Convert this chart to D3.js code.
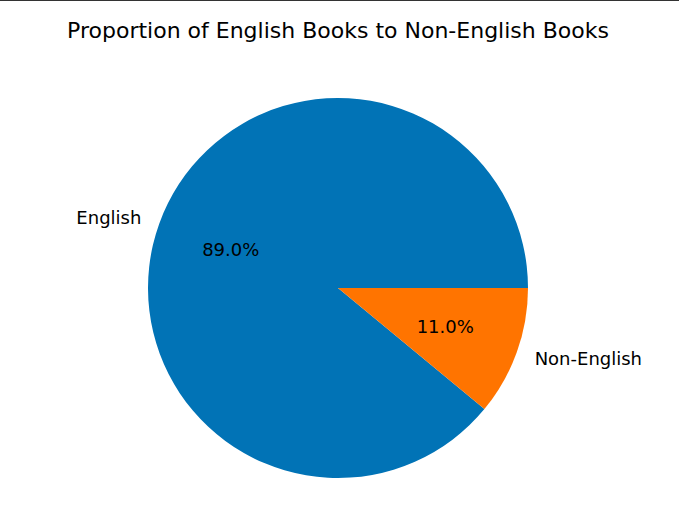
<!doctype html>
<html lang="en">
<head>
<meta charset="utf-8">
<script src="https://cdn.jsdelivr.net/npm/d3@7"></script>
<style>body{margin:0;background:#fff}</style>
</head>
<body>
<div id="vis"></div>
<script>
const labels = ['English', 'Non-English'];
const values = [89.0, 11.0];
const colors = ['#0173b6', '#ff7400'];

const w = 679, h = 519, cx = 338, cy = 288, r = 190;
const svg = d3.select('#vis').append('svg').attr('width', w).attr('height', h)
    .style('font-family', 'DejaVu Sans');

svg.append('line').attr('x1', 0).attr('x2', w).attr('y1', 0.5).attr('y2', 0.5)
    .attr('stroke', '#333').attr('stroke-width', 1);

svg.append('text').attr('x', cx).attr('y', 38).attr('text-anchor', 'middle')
    .attr('font-size', 22).text('Proportion of English Books to Non-English Books');

const pie = d3.pie().sort(null).startAngle(Math.PI / 2).endAngle(Math.PI / 2 - 2 * Math.PI);
const arcs = pie(values);
const arc = d3.arc().innerRadius(0).outerRadius(r);
const g = svg.append('g').attr('transform', `translate(${cx},${cy})`);

g.selectAll('path').data(arcs).enter().append('path')
    .attr('d', arc).attr('fill', (d, i) => colors[i]);

const pos = (d, k) => {
    const a = (d.startAngle + d.endAngle) / 2;
    return [k * r * Math.sin(a), -k * r * Math.cos(a)];
};

g.selectAll('.lbl').data(arcs).enter().append('text')
    .attr('class', 'lbl')
    .attr('x', d => pos(d, 1.1)[0]).attr('y', d => pos(d, 1.1)[1])
    .attr('dy', '0.35em').attr('font-size', 18)
    .attr('text-anchor', d => pos(d, 1.1)[0] > 0 ? 'start' : 'end')
    .text((d, i) => labels[i]);

g.selectAll('.pct').data(arcs).enter().append('text')
    .attr('class', 'pct')
    .attr('x', d => pos(d, 0.6)[0]).attr('y', d => pos(d, 0.6)[1])
    .attr('dy', '0.35em').attr('font-size', 18).attr('text-anchor', 'middle')
    .text(d => d.data.toFixed(1) + '%');
</script>
</body>
</html>
